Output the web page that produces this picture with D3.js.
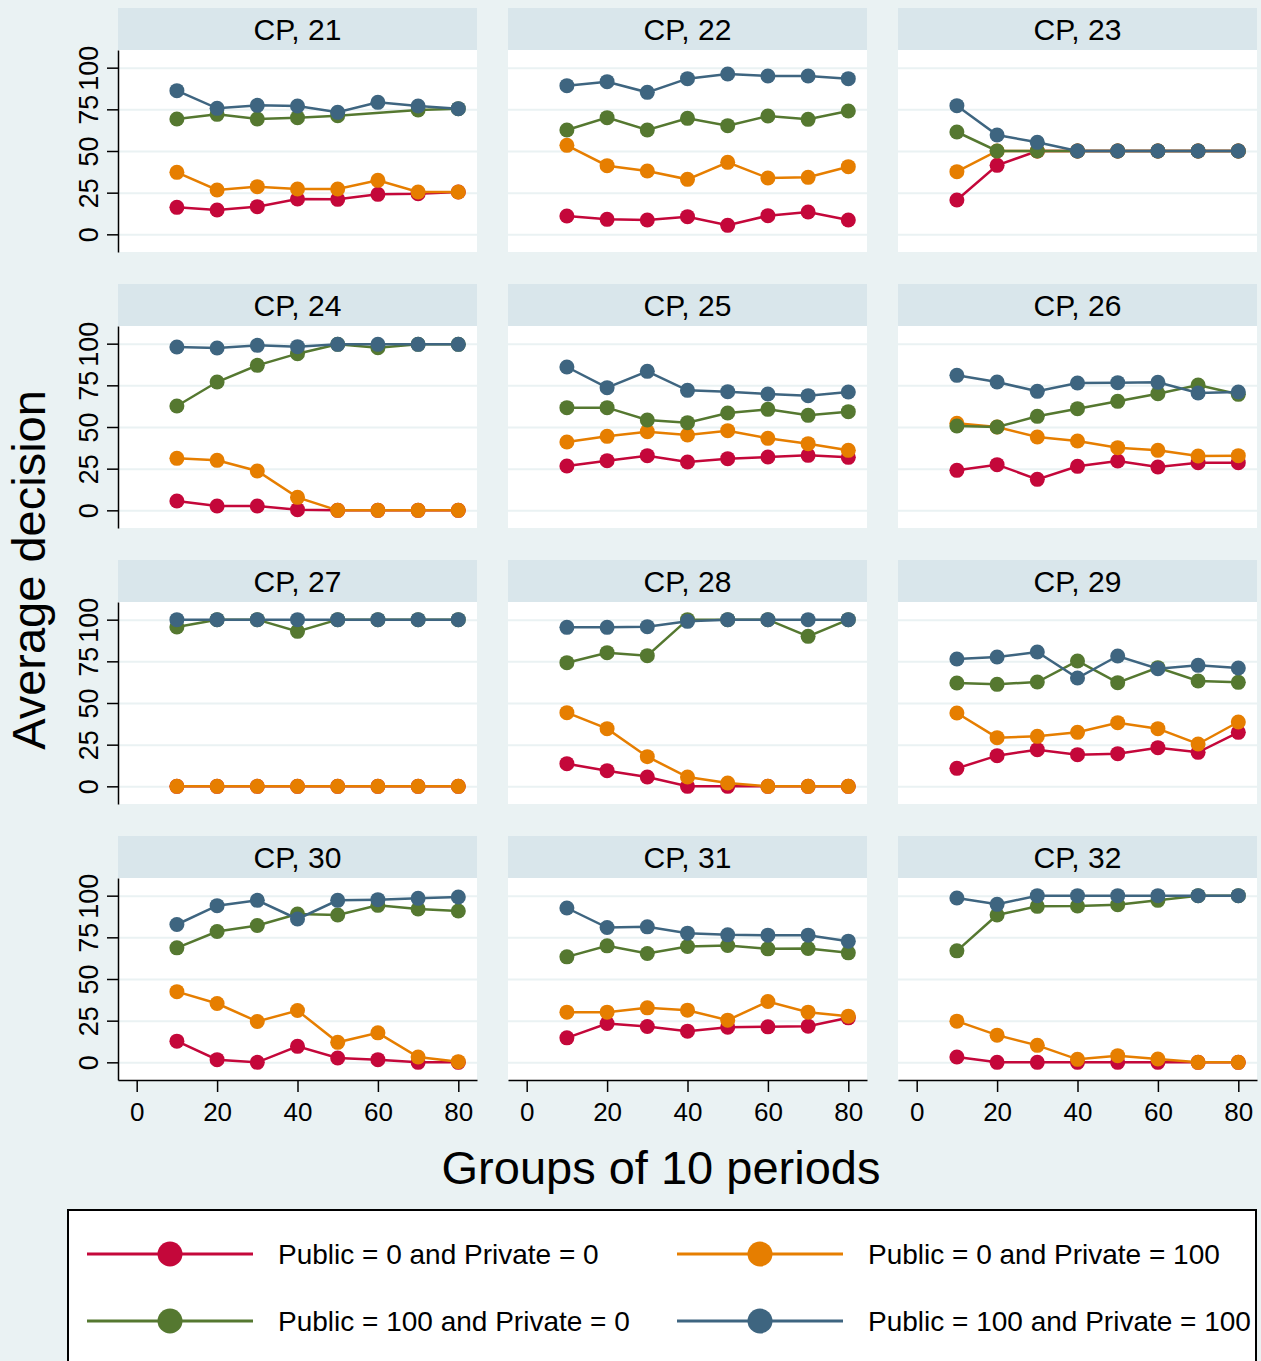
<!DOCTYPE html>
<html>
<head>
<meta charset="utf-8">
<script src="https://cdn.jsdelivr.net/npm/d3@7"></script>
<style>
  body { margin: 0; background: #eaf2f3; }
  svg { display: block; font-family: "Liberation Sans", Arial, sans-serif; }
</style>
</head>
<body>
<svg width="1261" height="1361"></svg>
<script>
//data
const panels = ["CP, 21", "CP, 22", "CP, 23", "CP, 24", "CP, 25", "CP, 26",
                "CP, 27", "CP, 28", "CP, 29", "CP, 30", "CP, 31", "CP, 32"];
const periods = [10, 20, 30, 40, 50, 60, 70, 80];
const yTicks = [0, 25, 50, 75, 100];
const xTicks = [0, 20, 40, 60, 80];
const seriesNames = ["Public = 0 and Private = 0", "Public = 0 and Private = 100",
                     "Public = 100 and Private = 0", "Public = 100 and Private = 100"];

// one row per panel, CP 21 .. CP 32
const pub0priv0 = [
    [16.2, 14.6, 16.6, 21.2, 21.0, 24.0, 24.4, 25.4],
    [11.0, 9.0, 8.6, 10.6, 5.4, 11.2, 13.4, 8.6],
    [20.6, 41.4, 50, 50, 50, 50, 50, 50],
    [5.6, 2.6, 2.6, 0.4, 0, 0, 0, 0],
    [26.6, 29.8, 32.8, 29.0, 31.0, 32.0, 33.0, 31.8],
    [24.0, 27.4, 18.6, 26.4, 29.6, 26.0, 28.6, 28.6],
    [0, 0, 0, 0, 0, 0, 0, 0],
    [13.6, 9.4, 5.6, 0, 0, 0, 0, 0],
    [10.8, 18.4, 22.0, 19.0, 19.6, 23.2, 20.4, 32.4],
    [12.7, 1.6, 0, 9.6, 2.6, 1.6, 0, 0],
    [14.7, 23.3, 21.5, 18.7, 21.1, 21.3, 21.7, 26.7],
    [3.2, 0, 0, 0, 0, 0, 0, 0]
];
const pub0priv100 = [
    [37.2, 26.6, 28.6, 27.2, 27.2, 32.4, 25.4, 25.4],
    [53.4, 41.2, 38.0, 33.0, 43.2, 33.8, 34.2, 40.6],
    [37.6, 50, 50, 50, 50, 50, 50, 50],
    [31.2, 30.0, 23.6, 7.8, 0, 0, 0, 0],
    [41.0, 44.4, 47.2, 45.2, 47.8, 43.2, 40.0, 36.0],
    [52.2, 50.0, 44.0, 41.6, 37.6, 36.0, 32.6, 32.8],
    [0, 0, 0, 0, 0, 0, 0, 0],
    [44.2, 34.6, 17.8, 5.6, 2.0, 0, 0, 0],
    [44.0, 29.2, 30.0, 32.4, 38.2, 34.6, 25.4, 38.6],
    [42.4, 35.3, 24.5, 31.1, 12.0, 17.7, 3.2, 0.4],
    [30.1, 30.1, 32.7, 31.3, 25.3, 36.5, 30.1, 27.7],
    [24.7, 16.3, 10.2, 1.8, 4.0, 2.0, 0, 0]
];
const pub100priv0 = [
    [69.2, 72.0, 69.2, 70.0, 71.2, null, 74.6, 75.4],
    [62.6, 70.0, 62.6, 69.6, 65.2, 71.0, 69.0, 74.0],
    [61.4, 50, 50, 50, 50, 50, 50, 50],
    [62.6, 77.0, 87.0, 94.0, 99.6, 97.6, 99.6, 99.6],
    [61.6, 61.6, 54.2, 52.6, 58.4, 60.6, 57.0, 59.2],
    [50.6, 50.0, 56.4, 61.0, 65.4, 70.0, 75.2, 69.6],
    [95.6, 100, 100, 93.0, 100, 100, 100, 100],
    [74.2, 80.2, 78.4, 100, 100, 100, 90.0, 100],
    [62.0, 61.2, 62.6, 75.2, 62.2, 71.2, 63.2, 62.4],
    [68.7, 78.5, 82.1, 89.0, 88.4, 94.2, 92.0, 90.8],
    [63.3, 69.9, 65.3, 69.5, 70.1, 68.1, 68.3, 65.7],
    [66.9, 88.4, 93.6, 93.8, 94.6, 97.2, 100, 100]
];
const pub100priv100 = [
    [86.2, 75.6, 77.4, 77.0, 73.2, 79.2, 77.0, 75.4],
    [89.2, 91.6, 85.2, 93.4, 96.2, 95.0, 95.0, 93.4],
    [77.2, 59.6, 55.2, 50, 50, 50, 50, 50],
    [98.0, 97.4, 99.0, 98.2, 99.6, 99.6, 99.6, 99.6],
    [86.0, 73.6, 83.4, 72.0, 71.2, 69.8, 68.8, 71.0],
    [81.0, 77.0, 71.4, 76.4, 76.6, 76.8, 70.4, 71.0],
    [100, 100, 100, 100, 100, 100, 100, 100],
    [95.4, 95.4, 95.8, 99.0, 100, 100, 100, 100],
    [76.4, 77.6, 80.6, 65.0, 78.2, 70.6, 72.6, 71.0],
    [82.7, 94.0, 97.2, 86.0, 97.2, 97.6, 98.4, 99.2],
    [92.6, 80.9, 81.3, 77.5, 76.5, 76.3, 76.3, 72.7],
    [98.6, 94.8, 100, 100, 100, 100, 100, 100]
];

//constants
const colors = ["#c4073a", "#e67e00", "#557830", "#3e6580"];
const allSeries = [pub0priv0, pub0priv100, pub100priv0, pub100priv100];
const colLeft = [118, 508, 898];
const rowTop = [8, 284, 560, 836];
const stripH = 42;
const plotW = 359;
const plotH = 202;
const bg = "#eaf2f3";

const svg = d3.select("svg");
svg.append("rect").attr("width", 1261).attr("height", 1361).attr("fill", bg);

//scales
const x = d3.scaleLinear().domain([-4.65, 84.65]).range([0, plotW]);
const y = d3.scaleLinear().domain([-10.6, 110.6]).range([plotH, 0]);

const line = d3.line()
    .x(d => x(d.p))
    .y(d => y(d.v));

//panels
panels.forEach(function(name, i) {
    const col = i % 3, row = Math.floor(i / 3);
    const g = svg.append("g")
        .attr("transform", "translate(" + colLeft[col] + "," + rowTop[row] + ")");

    //strip
    g.append("rect")
        .attr("width", plotW).attr("height", stripH)
        .attr("fill", "#d9e6eb");
    g.append("text")
        .attr("x", plotW / 2).attr("y", stripH / 2 + 11)
        .attr("text-anchor", "middle")
        .style("font-size", "30px")
        .text(name);

    const p = g.append("g").attr("transform", "translate(0," + stripH + ")");
    p.append("rect").attr("width", plotW).attr("height", plotH).attr("fill", "#fff");

    //grid
    p.append("g")
        .call(d3.axisRight(y).tickValues(yTicks).tickSize(plotW).tickFormat(""))
        .call(a => a.select(".domain").remove())
        .selectAll("line").attr("stroke", bg).attr("stroke-width", 2);

    //y axis on first column
    if (col === 0) {
        const ay = p.append("g")
            .call(d3.axisLeft(y).tickValues(yTicks).tickSize(11).tickSizeOuter(0));
        ay.select(".domain").attr("stroke", "#000").attr("stroke-width", 1.5);
        ay.selectAll(".tick line").attr("stroke-width", 1.5);
        ay.selectAll(".tick text")
            .attr("x", null).attr("dy", null)
            .attr("transform", "translate(-20,0) rotate(-90)")
            .attr("text-anchor", "middle")
            .style("font-family", "Liberation Sans, Arial, sans-serif")
            .style("font-size", "27px")
            .attr("fill", "#000");
    }

    //x axis on bottom row
    if (row === 3) {
        const ax = p.append("g")
            .attr("transform", "translate(0," + plotH + ")")
            .call(d3.axisBottom(x).tickValues(xTicks).tickSize(12).tickSizeOuter(0));
        ax.select(".domain").attr("stroke-width", 1.5);
        ax.selectAll(".tick line").attr("stroke-width", 1.5);
        ax.selectAll(".tick text")
            .attr("y", 41).attr("dy", null)
            .style("font-family", "Liberation Sans, Arial, sans-serif")
            .style("font-size", "26px")
            .attr("fill", "#000");
    }

    //series
    allSeries.forEach(function(s, k) {
        const pts = periods.map((per, j) => ({p: per, v: s[i][j]}))
            .filter(d => d.v !== null);
        const sg = p.append("g");
        sg.append("path")
            .datum(pts)
            .attr("d", line)
            .attr("fill", "none")
            .attr("stroke", colors[k])
            .attr("stroke-width", 2.5);
        sg.selectAll("circle")
            .data(pts)
            .enter()
            .append("circle")
            .attr("cx", d => x(d.p))
            .attr("cy", d => y(d.v))
            .attr("r", 7.5)
            .attr("fill", colors[k]);
    });
});

//axis titles
svg.append("text")
    .attr("transform", "translate(45,570) rotate(-90)")
    .attr("text-anchor", "middle")
    .style("font-size", "47px")
    .text("Average decision");

svg.append("text")
    .attr("x", 661).attr("y", 1184)
    .attr("text-anchor", "middle")
    .style("font-size", "47px")
    .text("Groups of 10 periods");

//legend
const legend = svg.append("g");
legend.append("rect")
    .attr("x", 68).attr("y", 1210)
    .attr("width", 1188).attr("height", 170)
    .attr("fill", "#fff").attr("stroke", "#000").attr("stroke-width", 2);

const legX = [87, 677];
const legY = [1254, 1321];
seriesNames.forEach(function(name, k) {
    const lx = legX[k % 2], ly = legY[Math.floor(k / 2)];
    legend.append("line")
        .attr("x1", lx).attr("x2", lx + 166)
        .attr("y1", ly).attr("y2", ly)
        .attr("stroke", colors[k]).attr("stroke-width", 3);
    legend.append("circle")
        .attr("cx", lx + 83).attr("cy", ly).attr("r", 12.5)
        .attr("fill", colors[k]);
    legend.append("text")
        .attr("x", lx + 191).attr("y", ly + 10)
        .style("font-size", "28px")
        .text(name);
});
</script>
</body>
</html>
